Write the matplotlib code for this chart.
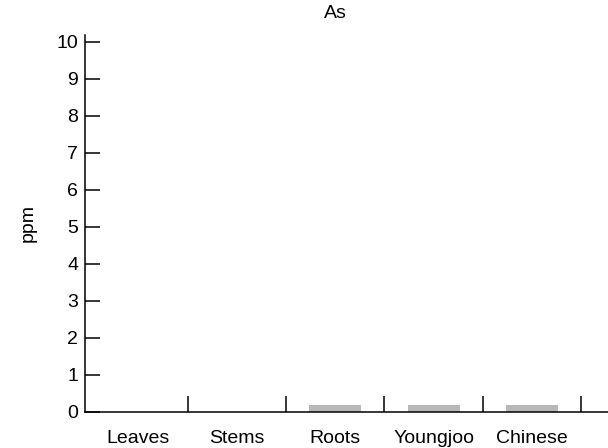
import matplotlib
matplotlib.use("Agg")
import matplotlib.pyplot as plt
import numpy as np

plt.rcParams['font.family'] = ['Liberation Sans', 'DejaVu Sans']

categories = ["Leaves", "Stems", "Roots", "Youngjoo", "Chinese"]
values = [0.0, 0.0, 0.2, 0.18, 0.2]
yticks = list(range(0, 11))

fig = plt.figure(figsize=(6.08, 4.48), dpi=100)
ax = fig.add_axes([0.14, 0.0804, 0.86, 0.8425])

x = np.arange(len(categories))
ax.bar(x, values, width=0.53, color='#b8b8b8', edgecolor='none', hatch='.....', zorder=2)

ax.set_xlim(-0.54, 4.77)
ax.set_ylim(0, 10.2)
ax.spines['top'].set_visible(False)
ax.spines['right'].set_visible(False)
for s in ['left', 'bottom']:
    ax.spines[s].set_linewidth(1.1)

ax.set_yticks(yticks)
ax.set_yticklabels([str(v) for v in yticks], fontsize=14)
ax.tick_params(axis='y', direction='in', length=11, width=1.1, pad=5)

ax.set_xticks(x)
ax.set_xticklabels(categories, fontsize=14)
ax.tick_params(axis='x', which='major', length=0, pad=13)
ax.set_xticks(list(x + 0.5), minor=True)
ax.tick_params(axis='x', which='minor', direction='in', length=11.5, width=1.1)

ax.set_ylabel("ppm", fontsize=14, labelpad=14)
ax.set_title("As", fontsize=14, pad=12, x=0.479)

fig.savefig("out.png", dpi=100)
